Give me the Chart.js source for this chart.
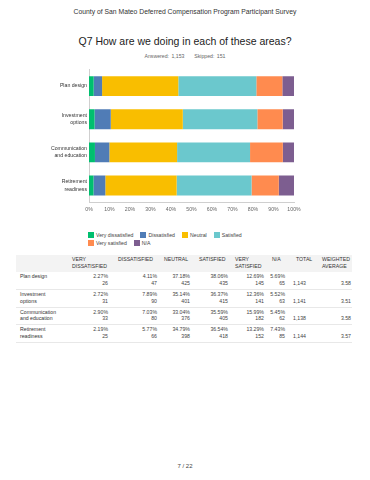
<!DOCTYPE html>
<html>
<head>
<meta charset="utf-8">
<script src="https://cdn.jsdelivr.net/npm/chart.js@4.4.0/dist/chart.umd.min.js"></script>
<style>
body { margin: 0; width: 370px; height: 480px; background: #fff; position: relative; overflow: hidden;
       font-family: "Liberation Sans", Arial, sans-serif; }
.abs { position: absolute; }
.center { left: 0; width: 370px; text-align: center; }
#survey { top: 8px; font-size: 6.8px; line-height: 8px; color: #333; }
#title { top: 35px; font-size: 10.5px; line-height: 12px; color: #222; }
#answered { top: 53px; font-size: 5.2px; line-height: 6px; color: #666; word-spacing: 1px; }
#chart { left: 0; top: 60px; }
#legend { left: 88px; top: 231px; width: 175px; display: flex; flex-wrap: wrap;
          font-size: 5.2px; line-height: 8px; color: #444; }
.item { display: flex; align-items: center; margin-right: 7px; white-space: nowrap; }
.box { width: 6px; height: 6px; margin-right: 2px; }
#table { left: 16px; top: 255px; width: 336px; border-collapse: collapse; table-layout: fixed;
         font-size: 5.2px; line-height: 6.5px; color: #444; }
#table th { background: #f3f3f3; font-weight: normal; color: #333; text-align: left; vertical-align: top;
            height: 17px; padding: 1px 0 0 4px; white-space: nowrap; box-sizing: border-box; }
#table td { vertical-align: top; text-align: right; height: 17.5px; padding: 1px 4px 0 0;
            border-bottom: 1px solid #e8e8e8; box-sizing: border-box; }
#table td:first-child { text-align: left; padding-left: 4px; color: #333; }
#table td.low { padding-top: 7.5px; }
#table th:nth-child(3) { padding-left: 6px; }
#table th:nth-child(5) { padding-left: 5px; }
#table th:nth-child(6) { padding-left: 3px; }
#table th:nth-child(8) { padding-left: 6px; }
#table td:nth-child(3) { padding-right: 3px; }
#table td:nth-child(7) { padding-right: 5px; }
#table td:nth-child(8) { padding-right: 12px; }
#table td:nth-child(9) { padding-right: 1px; }
#footer { top: 463px; font-size: 6px; line-height: 7px; color: #444; }
</style>
</head>
<body>
<div id="survey" class="abs center">County of San Mateo Deferred Compensation Program Participant Survey</div>
<div id="title" class="abs center">Q7 How are we doing in each of these areas?</div>
<div id="answered" class="abs center">Answered: 1,153 &nbsp;&nbsp; Skipped: 151</div>
<canvas id="chart" class="abs" width="370" height="160"></canvas>
<div id="legend" class="abs"></div>
<table id="table" class="abs">
  <colgroup>
    <col style="width:52px"><col style="width:44px"><col style="width:48px"><col style="width:34px">
    <col style="width:38px"><col style="width:36px"><col style="width:22px"><col style="width:28px">
    <col style="width:34px">
  </colgroup>
  <thead><tr id="head"></tr></thead>
  <tbody id="body"></tbody>
</table>
<div id="footer" class="abs center">7 / 22</div>

<script>
// categories (bar rows) as they appear in the chart and table
var CATEGORIES = ["Plan design", "Investment options", "Communication and education", "Retirement readiness"];
var CATEGORY_LINES = [["Plan design"], ["Investment", "options"], ["Communication", "and education"], ["Retirement", "readiness"]];

var SERIES_NAMES = ["Very dissatisfied", "Dissatisfied", "Neutral", "Satisfied", "Very satisfied", "N/A"];
var SERIES_HEADERS = [["VERY", "DISSATISFIED"], ["DISSATISFIED"], ["NEUTRAL"], ["SATISFIED"], ["VERY", "SATISFIED"], ["N/A"]];
var SERIES_COLORS = ["#00bf6f", "#507cb6", "#f9be00", "#6bc8cd", "#ff8b4f", "#7d5e90"];

// percentages
var VERY_DISSATISFIED_PCT = [2.27, 2.72, 2.90, 2.19];
var DISSATISFIED_PCT = [4.11, 7.89, 7.03, 5.77];
var NEUTRAL_PCT = [37.18, 35.14, 33.04, 34.79];
var SATISFIED_PCT = [38.06, 36.37, 35.59, 36.54];
var VERY_SATISFIED_PCT = [12.69, 12.36, 15.99, 13.29];
var NA_PCT = [5.69, 5.52, 5.45, 7.43];

// response counts
var VERY_DISSATISFIED_N = [26, 31, 33, 25];
var DISSATISFIED_N = [47, 90, 80, 66];
var NEUTRAL_N = [425, 401, 376, 398];
var SATISFIED_N = [435, 415, 405, 418];
var VERY_SATISFIED_N = [145, 141, 182, 152];
var NA_N = [65, 63, 62, 85];

var TOTALS = ["1,143", "1,141", "1,138", "1,144"];
var WEIGHTED_AVERAGES = ["3.58", "3.51", "3.58", "3.57"];

var X_TICKS = ["0%", "10%", "20%", "30%", "40%", "50%", "60%", "70%", "80%", "90%", "100%"];

var PCT_SERIES = [VERY_DISSATISFIED_PCT, DISSATISFIED_PCT, NEUTRAL_PCT, SATISFIED_PCT, VERY_SATISFIED_PCT, NA_PCT];
var COUNT_SERIES = [VERY_DISSATISFIED_N, DISSATISFIED_N, NEUTRAL_N, SATISFIED_N, VERY_SATISFIED_N, NA_N];

var FONT = "'Liberation Sans', Arial, sans-serif";


function initChart() {
    var datasets = [];
    for (var i = 0; i < SERIES_NAMES.length; i++) {
        datasets.push({
            label: SERIES_NAMES[i],
            data: PCT_SERIES[i],
            backgroundColor: SERIES_COLORS[i],
            borderWidth: 0,
            barPercentage: 1,
            categoryPercentage: 0.6
        });
    }

    new Chart(document.getElementById("chart"), {
        type: "bar",
        data: { labels: CATEGORY_LINES, datasets: datasets },
        options: {
            indexAxis: "y",
            responsive: false,
            animation: false,
            layout: { padding: { top: 9.5, right: 76, left: 0, bottom: 0 } },
            plugins: { legend: { display: false }, tooltip: { enabled: false } },
            scales: {
                x: {
                    stacked: true,
                    min: 0,
                    max: 100,
                    ticks: {
                        stepSize: 10,
                        autoSkip: false,
                        maxRotation: 0,
                        padding: 4,
                        color: "#666",
                        font: { family: FONT, size: 5.2 },
                        callback: function (value, index) { return X_TICKS[index]; }
                    },
                    grid: { display: false, drawTicks: false },
                    border: { display: true, color: "#cfcfcf", dash: [2, 2] },
                    afterFit: function (scale) { scale.height = 18; }
                },
                y: {
                    stacked: true,
                    ticks: {
                        autoSkip: false,
                        padding: 2,
                        color: "#333",
                        font: { family: FONT, size: 5.2, lineHeight: 1.4 }
                    },
                    grid: { display: false, drawTicks: false },
                    border: { display: true, color: "#cfcfcf", dash: [2, 2] },
                    afterFit: function (scale) { scale.width = 89; }
                }
            }
        }
    });
}


function initLegend() {
    var legend = document.getElementById("legend");
    for (var i = 0; i < SERIES_NAMES.length; i++) {
        var item = document.createElement("div");
        item.className = "item";
        item.innerHTML = '<span class="box" style="background:' + SERIES_COLORS[i] + '"></span>' + SERIES_NAMES[i];
        legend.appendChild(item);
    }
}


function initTable() {
    var head = "<th></th>";
    for (var i = 0; i < SERIES_HEADERS.length; i++)
        head += "<th>" + SERIES_HEADERS[i].join("<br>") + "</th>";
    head += "<th>TOTAL</th><th>WEIGHTED<br>AVERAGE</th>";
    document.getElementById("head").innerHTML = head;

    var body = "";
    for (var r = 0; r < CATEGORIES.length; r++) {
        body += "<tr><td>" + CATEGORY_LINES[r].join("<br>") + "</td>";
        for (var s = 0; s < PCT_SERIES.length; s++)
            body += "<td>" + PCT_SERIES[s][r].toFixed(2) + "%<br>" + COUNT_SERIES[s][r] + "</td>";
        body += '<td class="low">' + TOTALS[r] + '</td><td class="low">' + WEIGHTED_AVERAGES[r] + "</td></tr>";
    }
    document.getElementById("body").innerHTML = body;
}


initChart();
initLegend();
initTable();
</script>
</body>
</html>
